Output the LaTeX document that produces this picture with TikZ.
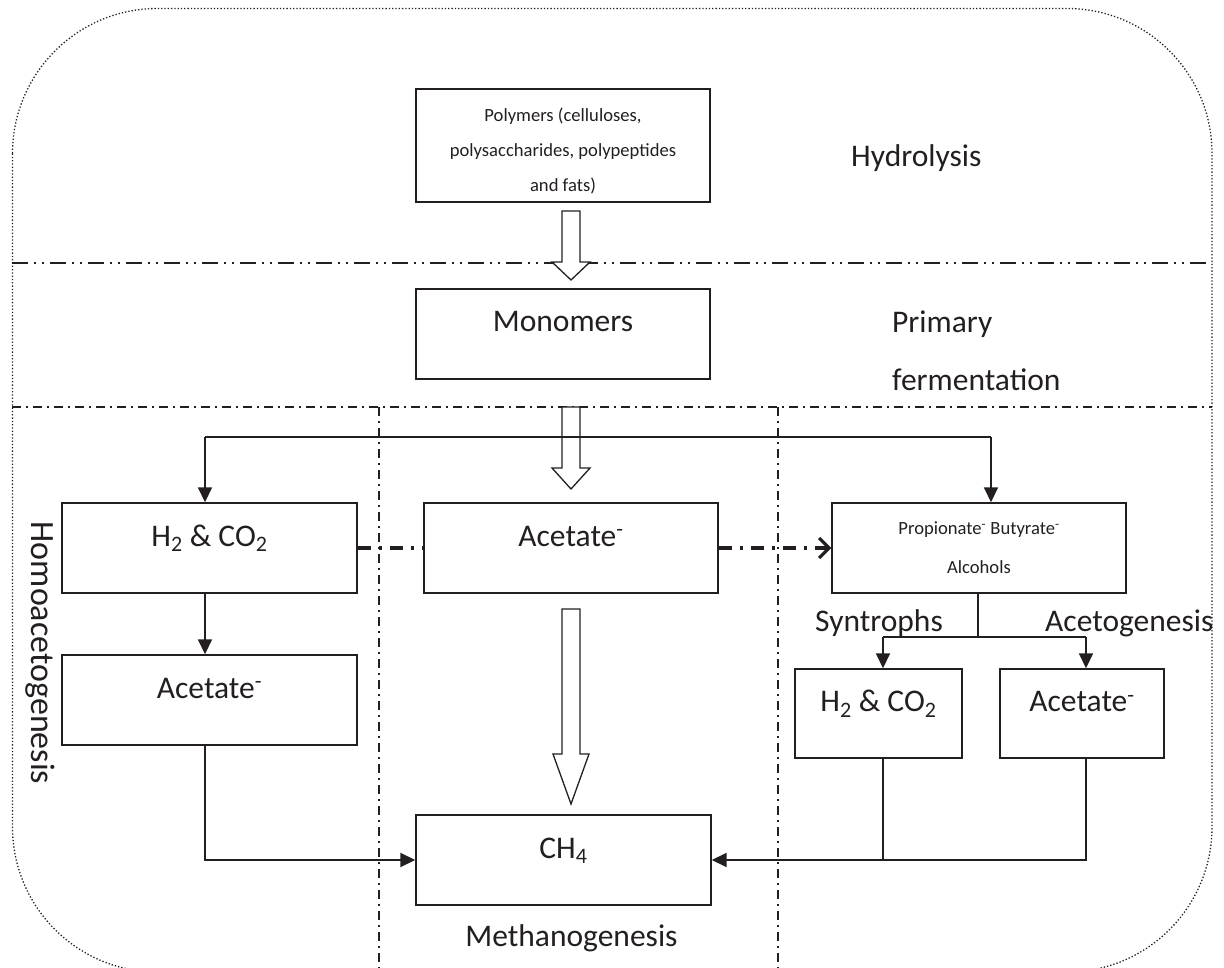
\documentclass[tikz,border=0pt]{standalone}
\usepackage{fontspec}
\setmainfont{Carlito}
\usepackage{xcolor}
\usepackage{tikz}
\usetikzlibrary{arrows.meta}
\definecolor{ink}{RGB}{35,31,32}
\newcommand{\boxfont}{\fontsize{31.5}{38}\selectfont}
\newcommand{\notefont}{\fontsize{18.6}{35}\selectfont}
\tikzstyle{box}=[draw=ink, text=ink, line width=1.4pt, shape=rectangle, minimum width=294pt, minimum height=90pt, font=\boxfont, text height=22pt, text depth=26pt]
\tikzstyle{note box}=[draw=ink, text=ink, line width=1.4pt, shape=rectangle, minimum width=294pt, minimum height=90pt, font=\notefont, align=center]
\tikzstyle{phase}=[text=ink, font=\boxfont, inner sep=0pt]
\tikzstyle{arrow edge}=[-{Triangle[length=15pt,width=14pt]}, draw=ink, line width=1.7pt]
\tikzstyle{plain edge}=[-, draw=ink, line width=1.7pt]
\tikzstyle{dashdot edge}=[-, draw=ink, line width=3.2pt, dash pattern=on 13pt off 8pt on 3pt off 8pt]
\tikzstyle{hollow}=[draw=ink, line width=1.3pt, fill=white, line join=miter]
\tikzstyle{divider}=[draw=ink, line width=1.3pt, dash pattern=on 9pt off 5pt on 2pt off 5pt]
\tikzstyle{long divider}=[draw=ink, line width=1.3pt, dash pattern=on 16pt off 6pt on 2pt off 6pt on 2pt off 6pt]
\tikzstyle{border}=[draw=ink, line width=1.3pt, dash pattern=on 1.3pt off 2pt, rounded corners=145pt]
\pgfdeclarelayer{nodelayer}
\pgfdeclarelayer{edgelayer}
\pgfsetlayers{nodelayer,edgelayer,main}
\begin{document}
\begin{tikzpicture}[x=1pt, y=-1pt]
        	\useasboundingbox (0,0) rectangle (1224,968);
        	\begin{scope}
        		\clip (0,0) rectangle (1224,968);
        		\draw [style=border] (12.5,8.5) rectangle (1212,972);
        	\end{scope}
        	\begin{pgfonlayer}{nodelayer}
        		\node [style=note box, minimum height=113pt] (0) at (563, 145.5) {\rule{0pt}{24pt}Polymers (celluloses,\\polysaccharides, polypeptides\\and fats)};
        		\node [style=box] (1) at (563, 334) {Monomers};
        		\node [style=box, minimum width=295pt] (2) at (209.5, 548) {H\textsubscript{2} \& CO\textsubscript{2}};
        		\node [style=box] (3) at (571, 548) {Acetate\textsuperscript{-}};
        		\node [style=note box] (4) at (979, 548) {Propionate\textsuperscript{-} Butyrate\textsuperscript{-}\\[4pt]Alcohols};
        		\node [style=box, minimum width=295pt] (5) at (209.5, 700) {Acetate\textsuperscript{-}};
        		\node [style=box, minimum width=167pt, minimum height=89pt] (6) at (878.5, 713.5) {H\textsubscript{2} \& CO\textsubscript{2}};
        		\node [style=box, minimum width=164pt, minimum height=89pt] (7) at (1082, 713.5) {Acetate\textsuperscript{-}};
        		\node [style=box, minimum width=295pt] (8) at (563.5, 860) {CH\textsubscript{4}};
        		\coordinate (9) at (205, 437);
        		\coordinate (10) at (991, 437);
        		\coordinate (11) at (978, 637);
        		\coordinate (12) at (883, 637);
        		\coordinate (13) at (1086, 637);
        		\node [style=phase, anchor=base west] (14) at (851, 167) {Hydrolysis};
        		\node [style=phase, anchor=base west] (15) at (892, 333) {Primary};
        		\node [style=phase, anchor=base west] (16) at (892, 391) {fermentation};
        		\node [style=phase, anchor=base west] (17) at (815, 631) {Syntrophs};
        		\node [style=phase, anchor=base west] (18) at (1045, 631) {Acetogenesis};
        		\node [style=phase, anchor=base] (19) at (571.5, 946) {Methanogenesis};
        		\node [style=phase, anchor=base, rotate=-90, font=\fontsize{34}{40}\selectfont] (20) at (31, 653) {Homoacetogenesis};
        	\end{pgfonlayer}
        	\begin{pgfonlayer}{edgelayer}
        		\draw [style=long divider] (12,263) -- (1212,263);
        		\draw [style=divider] (12,407) -- (1212,407);
        		\draw [style=divider] (379,407) -- (379,968);
        		\draw [style=divider] (778,407) -- (778,968);
        		\draw [style=hollow] (562,211) -- (580,211) -- (580,262) -- (590,262) -- (571,280) -- (552,262) -- (562,262) -- cycle;
        		\draw [style=hollow] (562,407) -- (580,407) -- (580,468) -- (590,468) -- (571,489) -- (552,468) -- (562,468) -- cycle;
        		\draw [style=hollow] (562,609) -- (580,609) -- (580,754) -- (589,754) -- (571,804) -- (553,754) -- (562,754) -- cycle;
        		\draw [style=plain edge] (9) -- (10);
        		\draw [style=arrow edge] (9) -- (9 |- 2.north);
        		\draw [style=arrow edge] (10) -- (10 |- 4.north);
        		\draw [style=arrow edge] (9 |- 2.south) -- (9 |- 5.north);
        		\draw [style=arrow edge] (9 |- 5.south) |- (8.west);
        		\draw [style=dashdot edge] (2.east) -- (3.west);
        		\draw [style=dashdot edge, -{Straight Barb[length=10pt,width=20pt]}] (3.east) -- (4.west);
        		\draw [style=plain edge] (11 |- 4.south) -- (11);
        		\draw [style=plain edge] (12) -- (13);
        		\draw [style=arrow edge] (12) -- (12 |- 6.north);
        		\draw [style=arrow edge] (13) -- (13 |- 7.north);
        		\draw [style=plain edge] (12 |- 6.south) -- (12 |- 8.east);
        		\draw [style=arrow edge] (13 |- 7.south) |- (8.east);
        	\end{pgfonlayer}
\end{tikzpicture}
\end{document}
